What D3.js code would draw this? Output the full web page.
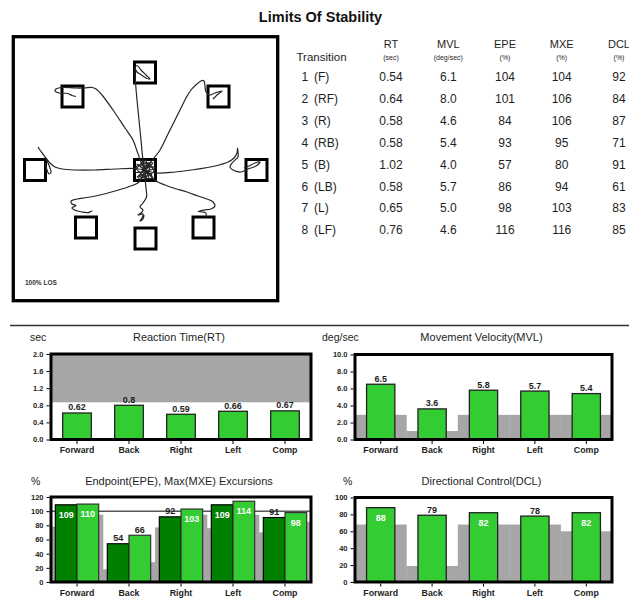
<!DOCTYPE html>
<html><head><meta charset="utf-8">
<script src="https://cdn.jsdelivr.net/npm/d3@7"></script>
<style>
body{margin:0;background:#fff}
svg{display:block;font-family:"Liberation Sans",Arial,sans-serif}
</style>
</head><body><svg id="c" width="629" height="603"></svg>
<script>
// ---- Transition table ----
const transNums = ["1","2","3","4","5","6","7","8"];
const transDirs = ["(F)","(RF)","(R)","(RB)","(B)","(LB)","(L)","(LF)"];
const rtVals  = [0.54,0.64,0.58,0.58,1.02,0.58,0.65,0.76];
const mvlVals = [6.1,8.0,4.6,5.4,4.0,5.7,5.0,4.6];
const epeVals = [104,101,84,93,57,86,98,116];
const mxeVals = [104,106,106,95,80,94,103,116];
const dclVals = [92,84,87,71,91,61,83,85];

// ---- Summary charts ----
const categories = ["Forward","Back","Right","Left","Comp"];
const rtSummary  = [0.62,0.8,0.59,0.66,0.67];
const rtNorm     = [0.87,0.87,0.87,0.87,0.87];
const rtTicks    = [0,0.4,0.8,1.2,1.6,2.0];
const mvlSummary = [6.5,3.6,5.8,5.7,5.4];
const mvlNorm    = [2.9,1.0,2.9,2.9,2.9];
const mvlTicks   = [0,2,4,6,8,10];
const epeSummary = [109,54,92,109,91];
const mxeSummary = [110,66,103,114,98];
const epeNorm    = [78,18,77,76,70];
const mxeNorm    = [95,28,95,95,85];
const epeTicks   = [0,20,40,60,80,100,120];
const dclSummary = [88,79,82,78,82];
const dclNorm    = [68,19,68,68,60];
const dclTicks   = [0,20,40,60,80,100];

// ---- LOS trace plot (offsets from centre, +y = forward) ----
const targets = [
  {id:"C",  p:[0,0]},   {id:"F",  p:[0,97.5]}, {id:"RF", p:[73.5,73.5]},
  {id:"R",  p:[111.5,0]},{id:"RB", p:[58.5,-57.5]},{id:"B", p:[0.5,-68.5]},
  {id:"LB", p:[-59,-57.5]},{id:"L", p:[-110,0]}, {id:"LF", p:[-72.5,73.5]}
];
const traceF  = [[-2,10],[-4,30],[-6,50],[-8,70],[-9.5,88],[-10,102],[-8,104.5],[-4,100],[1,95],[5,91],[1,92],[-5,96],[-8,98],[-9,100]];
const traceRF = [[5,7],[15,20],[23,36],[30,50],[36,62],[41,72],[46,80],[52,86],[57,89.5],[59,89],[60,84],[61,78],[65,75],[70,77],[77,79],[72,75],[68,71]];
const traceR  = [[11,-3],[30,-2],[50,0.5],[70,4],[83,8],[89,12],[92,17],[92.5,22],[93,18],[93,13],[88,8],[85,3],[89,-0.5],[96,-2],[103,1],[111,4],[115,8],[110,7],[104,4],[99,2]];
const traceRB = [[11,-11],[20,-15],[30,-18.5],[42,-22],[53,-26],[62,-29],[68,-32],[70,-36],[66,-39],[59,-40],[53,-41.5],[58,-42],[61,-43],[61,-47]];
const traceB  = [[0,-8],[1,-18],[1.5,-27],[-2,-33],[-5,-37],[-2,-40],[-4,-43],[-7,-45],[-2,-44],[-3,-48],[-5,-51],[-2,-49],[-1,-45]];
const traceLB = [[-6,-12],[-17,-17],[-30,-21],[-45,-25],[-58,-27.5],[-68,-29],[-74,-31],[-73,-34],[-69,-35.5],[-73,-38],[-69,-40.5],[-63,-42],[-57,-42.5],[-53,-41],[-57,-43]];
const traceL  = [[-11,1.5],[-30,1],[-50,0],[-70,0],[-83,1],[-90,3],[-95,7],[-99,12],[-103,17],[-107,23],[-105,20],[-100,13],[-97,7],[-95,2],[-94,-2],[-96,-4],[-98,0],[-100,7]];
const traceLF = [[-4,8],[-9,22],[-12,30],[-20,42],[-32,60],[-43,75],[-49,81],[-53,82.5],[-61,82],[-70,82],[-83,82.5],[-89,81],[-90,79],[-86,77],[-77,76.5],[-73,74.5],[-69,73.5]];
const traceC  = [[-8,6],[8,-8],[-5,-6],[6,8],[0,-10],[1,10],[-10,-2],[10,2],[-6,5],[7,-5],[-2,0],[5,6],[-7,-8],[9,-1],[-3,9],[4,-9],[-9,3],[8,7],[-8,-7],[2,-3]];
const traces = [traceF,traceRF,traceR,traceRB,traceB,traceLB,traceL,traceLF,traceC];

const svg = d3.select("#c");
const ink = "#1e1e1e";

// Title
svg.append("text").attr("x",320.5).attr("y",22).attr("text-anchor","middle")
  .attr("font-size",14.5).attr("font-weight","bold").attr("fill","#111").text("Limits Of Stability");

// ---- Trace panel ----
const px = d3.scaleLinear().domain([-133,133]).range([12,278]);
const py = d3.scaleLinear().domain([135,-132]).range([35,302]);
svg.append("rect").attr("x",13.3).attr("y",36.7).attr("width",264.4).attr("height",264)
  .attr("fill","none").attr("stroke","#000").attr("stroke-width",3.3);
const tsz = 21;
svg.append("g").selectAll("rect").data(targets).join("rect")
  .attr("x",d=>px(d.p[0])-tsz/2).attr("y",d=>py(d.p[1])-tsz/2)
  .attr("width",tsz).attr("height",tsz)
  .attr("fill","none").attr("stroke","#000").attr("stroke-width",3);
const tline = d3.line().x(d=>px(d[0])).y(d=>py(d[1])).curve(d3.curveCatmullRom.alpha(0.5));
svg.append("g").selectAll("path").data(traces).join("path")
  .attr("d",d=>tline([[0,0]].concat(d)))
  .attr("fill","none").attr("stroke","#262626").attr("stroke-width",1.2);
svg.append("text").attr("x",25).attr("y",285).attr("font-size",6.5).attr("font-weight","bold")
  .attr("fill","#333").text("100% LOS");

// ---- Table ----
const cols = [
  {h:"RT",  u:"(sec)",     cx:391,   v:rtVals,  f:d=>d.toFixed(2)},
  {h:"MVL", u:"(deg/sec)", cx:448.3, v:mvlVals, f:d=>d.toFixed(1)},
  {h:"EPE", u:"(%)",       cx:505,   v:epeVals, f:d=>String(d)},
  {h:"MXE", u:"(%)",       cx:561.7, v:mxeVals, f:d=>String(d)},
  {h:"DCL", u:"(%)",       cx:619,   v:dclVals, f:d=>String(d)}
];
const tbl = svg.append("g").attr("fill",ink);
tbl.append("text").attr("x",296.5).attr("y",61).attr("font-size",11.5).text("Transition");
cols.forEach(c=>{
  tbl.append("text").attr("x",c.cx).attr("y",47.5).attr("text-anchor","middle").attr("font-size",11).text(c.h);
  tbl.append("text").attr("x",c.cx).attr("y",59.5).attr("text-anchor","middle").attr("font-size",7).text(c.u);
});
const rowY = d3.scaleLinear().domain([0,7]).range([81,234.3]);
transNums.forEach((n,i)=>{
  tbl.append("text").attr("x",301.5).attr("y",rowY(i)).attr("font-size",12).text(n);
  tbl.append("text").attr("x",314).attr("y",rowY(i)).attr("font-size",12).text(transDirs[i]);
  cols.forEach(c=>{
    tbl.append("text").attr("x",c.cx).attr("y",rowY(i)).attr("text-anchor","middle")
      .attr("font-size",12).text(c.f(c.v[i]));
  });
});

// Separator
svg.append("line").attr("x1",10).attr("x2",629).attr("y1",325.5).attr("y2",325.5)
  .attr("stroke","#333").attr("stroke-width",1.5);

// ---- Bar chart helper ----
const green = "#33cc33", dgreen = "#008000", grey = "#a6a6a6";
function barChart(o){
  const g = svg.append("g");
  const x = d3.scaleBand().domain(categories).range([o.x0,o.x1]).padding(0);
  const y = d3.scaleLinear().domain([0,o.max]).range([o.y1,o.y0]);
  // titles
  g.append("text").attr("x",o.unitX).attr("y",o.titleY).attr("font-size",10.5).attr("fill",ink).text(o.unit);
  g.append("text").attr("x",(o.x0+o.x1)/2 - 2).attr("y",o.titleY).attr("text-anchor","middle")
    .attr("font-size",11).attr("fill",ink).text(o.title);
  const rows = categories.map((c,i)=>({c,i}));
  const labelIt = (v, xc, fmt) => {
    const inside = v >= 0.8*o.max;
    g.append("text").attr("x",xc).attr("y", inside ? y(v)+13 : y(v)-2.5)
      .attr("text-anchor","middle").attr("font-size",9).attr("font-weight","bold")
      .attr("fill", inside ? "#fff" : ink).text(fmt(v));
  };
  if (o.pairs) {
    const sub = d3.scaleBand().domain(["epe","mxe"]).range([0,x.bandwidth()]).paddingInner(0).paddingOuter(0.2);
    const half = x.bandwidth()/2;
    // normative shading, one step per half band
    g.selectAll(".n1").data(rows).join("rect")
      .attr("x",d=>x(d.c)).attr("width",half+0.3)
      .attr("y",d=>y(o.norm[d.i])).attr("height",d=>y(0)-y(o.norm[d.i])).attr("fill",grey);
    g.selectAll(".n2").data(rows).join("rect")
      .attr("x",d=>x(d.c)+half).attr("width",half+0.3)
      .attr("y",d=>y(o.norm2[d.i])).attr("height",d=>y(0)-y(o.norm2[d.i])).attr("fill",grey);
    // reference line at 100%
    g.append("line").attr("x1",o.x0).attr("x2",o.x1).attr("y1",y(100)).attr("y2",y(100))
      .attr("stroke","#000").attr("stroke-width",1);
    [[o.vals,"epe",dgreen,"#000"],[o.vals2,"mxe",green,"#333"]].forEach(([vals,key,col,st])=>{
      g.selectAll(".b"+key).data(rows).join("rect")
        .attr("x",d=>x(d.c)+sub(key)).attr("width",sub.bandwidth())
        .attr("y",d=>y(vals[d.i])).attr("height",d=>y(0)-y(vals[d.i]))
        .attr("fill",col).attr("stroke",st).attr("stroke-width",1.2);
      rows.forEach(d=>labelIt(vals[d.i], x(d.c)+sub(key)+sub.bandwidth()/2, o.fmt));
    });
  } else {
    // normative shading
    g.selectAll(".n").data(rows).join("rect")
      .attr("x",d=>x(d.c)).attr("width",x.bandwidth()+0.3)
      .attr("y",d=> o.shadeTop ? y(o.max) : y(o.norm[d.i]))
      .attr("height",d=> o.shadeTop ? y(o.norm[d.i])-y(o.max) : y(0)-y(o.norm[d.i]))
      .attr("fill",grey);
    const bw = x.bandwidth()*0.55;
    g.selectAll(".b").data(rows).join("rect")
      .attr("x",d=>x(d.c)+(x.bandwidth()-bw)/2).attr("width",bw)
      .attr("y",d=>y(o.vals[d.i])).attr("height",d=>y(0)-y(o.vals[d.i]))
      .attr("fill",green).attr("stroke","#222").attr("stroke-width",1.3);
    rows.forEach(d=>labelIt(o.vals[d.i], x(d.c)+x.bandwidth()/2, o.fmt));
  }
  // frame
  g.append("rect").attr("x",o.x0).attr("y",o.y0).attr("width",o.x1-o.x0).attr("height",o.y1-o.y0)
    .attr("fill","none").attr("stroke","#000").attr("stroke-width",3);
  // y axis
  const ya = g.append("g").attr("transform",`translate(${o.x0-1.5},0)`)
    .call(d3.axisLeft(y).tickValues(o.ticks).tickFormat(o.tickFmt).tickSize(3).tickPadding(3));
  ya.select(".domain").remove();
  ya.selectAll("text").attr("font-size",7.5).attr("font-weight","bold").attr("fill",ink)
    .attr("font-family","Liberation Sans, Arial, sans-serif");
  // x axis
  const xa = g.append("g").attr("transform",`translate(0,${o.y1+1.5})`)
    .call(d3.axisBottom(x).tickSize(3).tickPadding(3));
  xa.select(".domain").remove();
  xa.selectAll("text").attr("font-size",8.8).attr("font-weight","bold").attr("fill",ink)
    .attr("font-family","Liberation Sans, Arial, sans-serif");
}

barChart({x0:51,x1:311,y0:354,y1:439.5,max:2.0,ticks:rtTicks,tickFmt:d3.format(".1f"),
  vals:rtSummary,norm:rtNorm,shadeTop:true,fmt:d=>String(d),
  title:"Reaction Time(RT)",unit:"sec",unitX:30,titleY:340.5});
barChart({x0:355,x1:612,y0:354.5,y1:439.5,max:10,ticks:mvlTicks,tickFmt:d3.format(".1f"),
  vals:mvlSummary,norm:mvlNorm,fmt:d=>String(d),
  title:"Movement Velocity(MVL)",unit:"deg/sec",unitX:322,titleY:340.5});
barChart({x0:51,x1:311,y0:497,y1:582,max:120,ticks:epeTicks,tickFmt:d3.format("d"),
  pairs:true,vals:epeSummary,vals2:mxeSummary,norm:epeNorm,norm2:mxeNorm,fmt:d=>String(d),
  title:"Endpoint(EPE), Max(MXE) Excursions",unit:"%",unitX:31,titleY:485});
barChart({x0:355,x1:612,y0:497.5,y1:582,max:100,ticks:dclTicks,tickFmt:d3.format("d"),
  vals:dclSummary,norm:dclNorm,fmt:d=>String(d),
  title:"Directional Control(DCL)",unit:"%",unitX:343,titleY:485});
</script></body></html>
